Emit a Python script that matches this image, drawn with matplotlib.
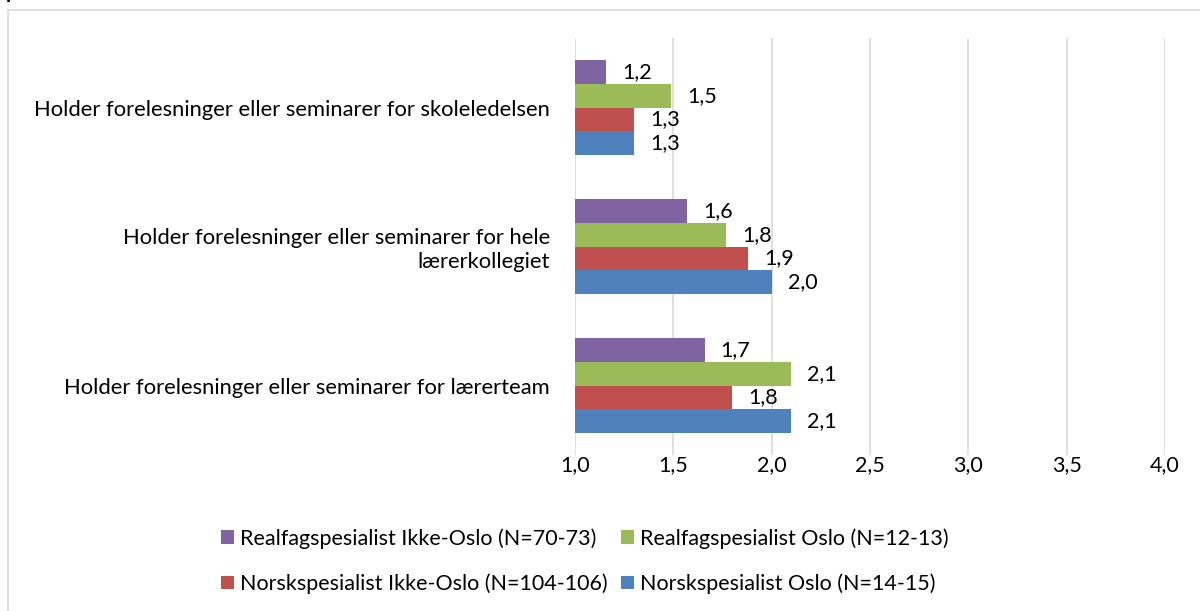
import numpy as np
import matplotlib.pyplot as plt
from matplotlib.patches import Rectangle

plt.rcParams['font.family'] = ['Lato', 'DejaVu Sans']

# Data
categories = ["Holder forelesninger eller seminarer for skoleledelsen",
              "Holder forelesninger eller seminarer for hele\nlærerkollegiet",
              "Holder forelesninger eller seminarer for lærerteam"]
series = ["Realfagspesialist Ikke-Oslo (N=70-73)",
          "Realfagspesialist Oslo (N=12-13)",
          "Norskspesialist Ikke-Oslo (N=104-106)",
          "Norskspesialist Oslo (N=14-15)"]
realfag_ikke_oslo = [1.16, 1.57, 1.66]
realfag_oslo = [1.49, 1.77, 2.10]
norsk_ikke_oslo = [1.30, 1.88, 1.80]
norsk_oslo = [1.30, 2.00, 2.10]
colors = ["#8064A2", "#9BBB59", "#C0504D", "#4F81BD"]
xticks = [1.0, 1.5, 2.0, 2.5, 3.0, 3.5, 4.0]

fs = 15.5

fig = plt.figure(figsize=(12, 6.11), dpi=100)
ax = fig.add_axes([575 / 1200, 1 - 455 / 611, 590 / 1200, 417 / 611])

# frame around the chart area
fig.patches.append(Rectangle((8 / 1200, -0.1), 1.2, 1 - 10 / 611 + 0.1,
                             transform=fig.transFigure, fill=False,
                             edgecolor="#d9d9d9", linewidth=1.2))
# title is cut off at the top in the original
fig.text(0.005, 1.0 + 8 / 611, "på skolen", fontsize=15, fontweight="bold", va="center", ha="left")

y = np.arange(len(categories))
h = 0.17
all_vals = [realfag_ikke_oslo, realfag_oslo, norsk_ikke_oslo, norsk_oslo]
handles = []
for i, (vals, c, name) in enumerate(zip(all_vals, colors, series)):
    pos = y + (i - 1.5) * h
    b = ax.barh(pos, vals, height=h, color=c, label=name, zorder=3)
    handles.append(b)
    for p, v in zip(pos, vals):
        ax.annotate(f"{v:.1f}".replace(".", ","), (v, p), xytext=(11.5, 0),
                    textcoords="offset points", va="center", ha="left", fontsize=fs)

ax.set_xlim(1, 4)
ax.set_ylim(2.5, -0.5)
ax.set_xticks(xticks)
ax.set_xticklabels([f"{t:.1f}".replace(".", ",") for t in xticks], fontsize=fs)
ax.set_yticks(y)
ax.set_yticklabels(categories, fontsize=15.8, ha="right")
ax.tick_params(length=0)
ax.tick_params(axis="x", pad=0)
ax.tick_params(axis="y", pad=18)
for s in ax.spines.values():
    s.set_visible(False)
ax.grid(axis="x", color="#d9d9d9", linewidth=1.2, zorder=0)

order = [0, 2, 1, 3]
leg = fig.legend([handles[i] for i in order], [series[i] for i in order],
                 ncol=2, loc="center", bbox_to_anchor=(585 / 1200, 1 - 561 / 611),
                 frameon=False, fontsize=fs, handlelength=0.6, handleheight=0.6,
                 handletextpad=0.3, columnspacing=0.6, labelspacing=1.15)

fig.savefig("out.png", dpi=100)
